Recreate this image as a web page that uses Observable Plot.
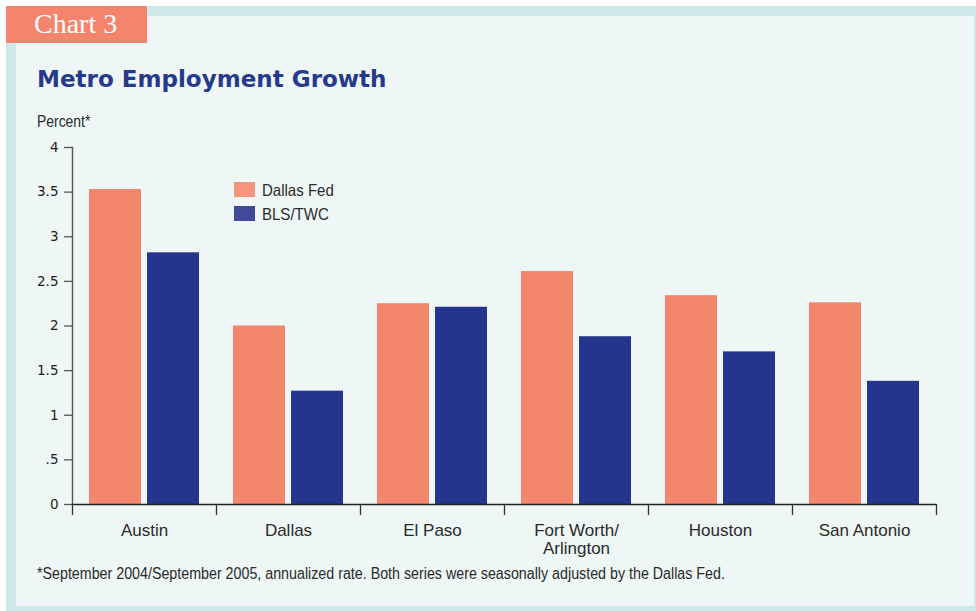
<!DOCTYPE html>
<html>
<head>
<meta charset="utf-8">
<script src="https://cdn.jsdelivr.net/npm/d3@7"></script>
<script src="https://cdn.jsdelivr.net/npm/@observablehq/plot@0.6"></script>
<style>
  body { margin: 0; background: #ffffff; }
  #wrap { position: relative; width: 976px; height: 611px; overflow: hidden; background: #ffffff; }
  #border { position: absolute; left: 6px; top: 6px; width: 970px; height: 605px; background: #cde9e7; }
  #panel { position: absolute; left: 16px; top: 16px; width: 958px; height: 590px; background: #eef7f5; }
  #tag { position: absolute; left: 6px; top: 6px; width: 141px; height: 37px; background: #f5846c; }
  #tag span { position: absolute; left: 28px; top: 2px; font-family: "Liberation Serif", "DejaVu Serif", serif; font-size: 28px; color: #ffffff; white-space: nowrap; }
  #title { position: absolute; left: 37px; top: 65px; font-family: "DejaVu Sans", sans-serif; font-weight: bold; font-size: 23.5px; color: #263a8c; white-space: nowrap; transform: scaleX(0.98); transform-origin: 0 0; }
  .cond { font-family: "Liberation Sans", Arial, sans-serif; color: #2a2a2a; white-space: nowrap; transform-origin: 0 0; }
  #unit { position: absolute; left: 37px; top: 113px; font-size: 16px; transform: scaleX(0.87); }
  #note { position: absolute; left: 37px; top: 565px; font-size: 16px; transform: scaleX(0.891); }
  .lg { position: absolute; left: 234px; width: 21px; height: 15px; }
  .lgt { position: absolute; left: 262px; font-size: 16.5px; transform: scaleX(0.91); }
  #chart { position: absolute; left: 0; top: 0; }
</style>
</head>
<body>
<div id="wrap">
  <div id="border"></div>
  <div id="panel"></div>
  <div id="tag"><span>Chart 3</span></div>
  <div id="title">Metro Employment Growth</div>
  <div id="unit" class="cond">Percent*</div>
  <div id="legend"></div>
  <div id="chart"></div>
  <div id="note" class="cond">*September 2004/September 2005, annualized rate. Both series were seasonally adjusted by the Dallas Fed.</div>
</div>
<script>
const cities = ["Austin", "Dallas", "El Paso", "Fort Worth/\nArlington", "Houston", "San Antonio"];
const series = ["Dallas Fed", "BLS/TWC"];
const dallasFed = [3.53, 2.0, 2.25, 2.61, 2.34, 2.26];
const blsTwc = [2.82, 1.27, 2.21, 1.88, 1.71, 1.38];
const yTicks = [0, 0.5, 1, 1.5, 2, 2.5, 3, 3.5, 4];
const yTickLabels = ["0", ".5", "1", "1.5", "2", "2.5", "3", "3.5", "4"];
const barColors = ["#f5866e", "#25348c"];
const legendColors = ["#f7947c", "#404a9a"];

const rows = [];
cities.forEach((c, i) => {
  rows.push({city: c, series: series[0], value: dallasFed[i]});
  rows.push({city: c, series: series[1], value: blsTwc[i]});
});

// legend
const legend = document.getElementById("legend");
series.forEach((s, i) => {
  const sw = document.createElement("div");
  sw.className = "lg";
  sw.style.top = (182 + i * 24) + "px";
  sw.style.background = legendColors[i];
  legend.appendChild(sw);
  const t = document.createElement("div");
  t.className = "lgt cond";
  t.style.top = (181 + i * 24) + "px";
  t.textContent = s;
  legend.appendChild(t);
});

const sans = "Liberation Sans, Arial, sans-serif";
const chart = Plot.plot({
  width: 976,
  height: 611,
  marginLeft: 72,
  marginRight: 40,
  marginTop: 147,
  marginBottom: 107,
  style: {background: "transparent", overflow: "visible"},
  fx: {domain: cities, padding: 0},
  x: {domain: series, paddingInner: 6 / 58, paddingOuter: 17 / 58, axis: null},
  y: {domain: [0, 4]},
  color: {domain: series, range: barColors},
  marks: [
    Plot.barY(rows, {fx: "city", x: "series", y: "value", fill: "series"}),
    Plot.frame({anchor: "left", facetAnchor: "left", stroke: "#555", strokeWidth: 1.4}),
    Plot.ruleY([0], {stroke: "#222", strokeWidth: 1.6}),
    Plot.axisY({
      ticks: yTicks,
      tickFormat: d => yTickLabels[yTicks.indexOf(d)],
      tickSize: 8, tickPadding: 6,
      stroke: "#555", strokeWidth: 1.3, fill: "#1e1e1e",
      fontFamily: "DejaVu Sans", fontSize: 13.5, label: null
    }),
    Plot.axisFx({
      anchor: "bottom", tickSize: 0, tickPadding: 18, label: null,
      fill: "#2a2a2a", fontFamily: sans, fontSize: 17, lineHeight: 1.08
    }),
    Plot.axisFx({
      anchor: "bottom", tickSize: 11, tickFormat: () => "", dx: -72, label: null,
      stroke: "#333", strokeWidth: 1.3
    }),
    Plot.axisFx({
      anchor: "bottom", ticks: [cities[cities.length - 1]], tickSize: 11, tickFormat: () => "", dx: 72, label: null,
      stroke: "#333", strokeWidth: 1.3
    })
  ]
});
document.getElementById("chart").appendChild(chart);
</script>
</body>
</html>
